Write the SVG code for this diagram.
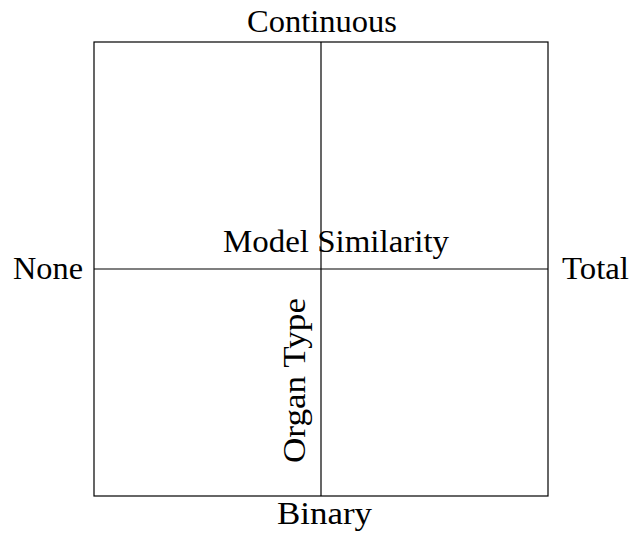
<svg xmlns="http://www.w3.org/2000/svg" width="632" height="536" viewBox="0 0 632 536">
<style>
.t{font-family:"Liberation Serif","Times New Roman",serif;font-size:31px;fill:#000;text-anchor:middle}
.ln{stroke:#000;stroke-width:1.2;fill:none}
</style>
<rect width="632" height="536" fill="#fff"/>
<g id="connectors">
<rect class="ln" x="94" y="42" width="454" height="454"/>
<line class="ln" x1="321" y1="42" x2="321" y2="496"/>
<line class="ln" x1="94" y1="269" x2="548" y2="269"/>
</g>
<g id="continuous"><text class="t" x="322" y="32" textLength="150" lengthAdjust="spacingAndGlyphs">Continuous</text></g>
<g id="binary"><text class="t" x="324.5" y="524" textLength="95" lengthAdjust="spacingAndGlyphs">Binary</text></g>
<g id="none"><text class="t" x="48" y="279" textLength="70" lengthAdjust="spacingAndGlyphs">None</text></g>
<g id="total"><text class="t" x="595.5" y="279" textLength="67" lengthAdjust="spacingAndGlyphs">Total</text></g>
<g id="model-similarity"><text class="t" x="336" y="252" textLength="226" lengthAdjust="spacingAndGlyphs">Model Similarity</text></g>
<g id="organ-type"><text class="t" transform="translate(305,380.5) rotate(-90)" x="0" y="0" textLength="165" lengthAdjust="spacingAndGlyphs">Organ Type</text></g>
</svg>
